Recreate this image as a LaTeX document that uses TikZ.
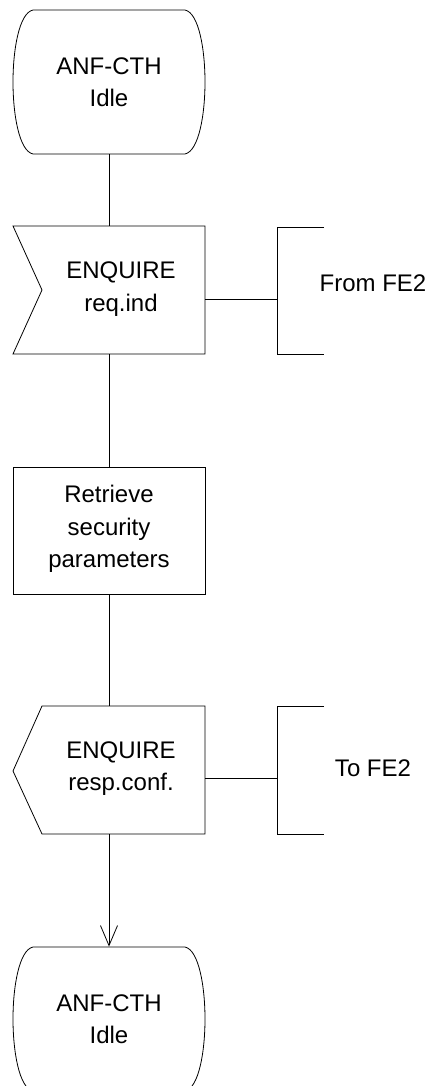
\documentclass[tikz,border=0pt]{standalone}
\usepackage{fontspec}
\setmainfont{Liberation Sans}
\usetikzlibrary{arrows.meta}
\begin{document}
\begin{tikzpicture}[x=1pt,y=-1pt,line width=0.8pt,
  lbl/.style={font=\fontsize{24}{32.5}\selectfont,align=center,inner sep=0pt},
  frame/.style={inner sep=0pt,minimum width=192pt},
  flow/.style={draw},
  openarrow/.style={-{Straight Barb[length=20pt,width=17pt,line width=0.8pt]}}]
\useasboundingbox (0,0) rectangle (431,1086);
% frames (invisible anchors)
\node[frame,minimum height=144pt] (s1) at (109,82) {};
\node[frame,minimum height=128pt] (in1) at (109,290) {};
\node[frame,minimum height=127pt] (p1) at (109,530.5) {};
\node[frame,minimum height=128pt] (out1) at (109,770) {};
\node[frame,minimum height=144pt] (s2) at (109,1019) {};
% top state
\draw (33,10) -- (185,10) .. controls (199,13) and (205,50) .. (205,82)
  .. controls (205,114) and (199,151) .. (185,154) -- (33,154)
  .. controls (19,151) and (13,114) .. (13,82)
  .. controls (13,50) and (19,13) .. (33,10) -- cycle;
\node[lbl] (s1t) at (109,82) {ANF-CTH\\Idle};
% input signal
\draw (13,226) -- (205,226) -- (205,354) -- (13,354) -- (42,290) -- cycle;
\node[lbl] (in1t) at (121,289) {ENQUIRE\\req.ind};
% bracket from
\coordinate (b1) at (277,299);
\draw (324,227) -- (277,227) -- (277,354) -- (324,354);
\node[lbl] (fromt) at (373,283) {From FE2};
% process
\draw (13,467) rectangle (205,594);
\node[lbl] (p1t) at (109,529) {Retrieve\\security\\parameters};
% output signal
\draw (42,706) -- (205,706) -- (205,834) -- (42,834) -- (13,771) -- cycle;
\node[lbl] (out1t) at (121,768.5) {ENQUIRE\\resp.conf.};
% bracket to
\coordinate (b2) at (277,778);
\draw (324,706) -- (277,706) -- (277,834) -- (324,834);
\node[lbl] (tot) at (373,768) {To FE2};
% bottom state
\draw (33,947) -- (185,947) .. controls (199,950) and (205,987) .. (205,1019)
  .. controls (205,1051) and (199,1088) .. (185,1091) -- (33,1091)
  .. controls (19,1088) and (13,1051) .. (13,1019)
  .. controls (13,987) and (19,950) .. (33,947) -- cycle;
\node[lbl] (s2t) at (109,1019) {ANF-CTH\\Idle};
% connectors
\draw[flow] (s1.south) -- (in1.north);
\draw[flow] (in1.south) -- (p1.north);
\draw[flow] (p1.south) -- (out1.north);
\draw[flow,openarrow] (out1.south) -- (s2.north);
\draw[flow] (in1.east |- b1) -- (b1);
\draw[flow] (out1.east |- b2) -- (b2);
\end{tikzpicture}
\end{document}
